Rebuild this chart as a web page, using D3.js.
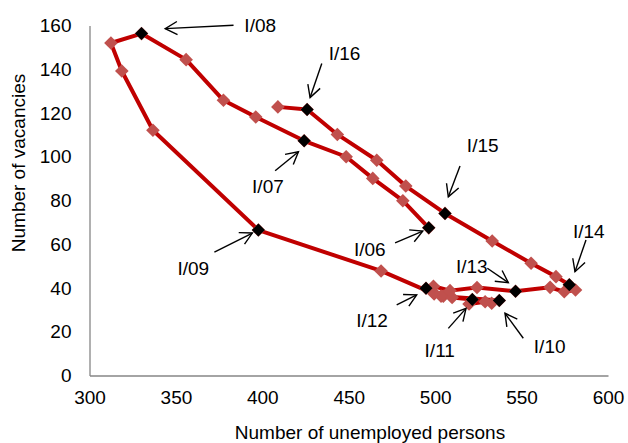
<!DOCTYPE html>
<html>
<head>
<meta charset="utf-8">
<script src="https://cdn.jsdelivr.net/npm/d3@7"></script>
<style>
  html, body { margin: 0; padding: 0; background: #fff; }
  svg text { font-family: "Liberation Sans", Arial, sans-serif; fill: #000; }
</style>
</head>
<body>
<svg id="chart" width="628" height="443"></svg>
<script>
// Quarterly observations, January 2006 – April 2016
const periods = [
  "I/06","IV/06","VII/06","X/06",
  "I/07","IV/07","VII/07","X/07",
  "I/08","IV/08","VII/08","X/08",
  "I/09","IV/09","VII/09","X/09",
  "I/10","IV/10","VII/10","X/10",
  "I/11","IV/11","VII/11","X/11",
  "I/12","IV/12","VII/12","X/12",
  "I/13","IV/13","VII/13","X/13",
  "I/14","IV/14","VII/14","X/14",
  "I/15","IV/15","VII/15","X/15",
  "I/16","IV/16"
];
// Number of unemployed persons (thousands)
const unemployed = [
  496.3, 481.3, 463.9, 448.5,
  424.2, 396.2, 377.5, 355.9,
  330.1, 312.4, 318.7, 336.7,
  397.7, 468.7, 499.4, 504.7,
  537.1, 532.7, 528.9, 519.6,
  521.5, 509.8, 503.4, 499.4,
  494.7, 499.0, 508.6, 524.2,
  546.5, 566.5, 574.7, 581.2,
  577.6, 569.9, 555.5, 533.0,
  505.7, 483.0, 466.2, 443.4,
  425.9, 409.0
];
// Number of vacancies (thousands)
const vacancies = [
  67.5, 79.9, 90.1, 100.0,
  107.3, 118.2, 125.8, 144.4,
  156.3, 152.0, 139.2, 112.1,
  66.5, 47.8, 37.3, 36.2,
  34.3, 33.0, 33.7, 32.7,
  34.7, 35.7, 36.3, 37.7,
  39.9, 40.8, 38.8, 40.2,
  38.5, 40.3, 38.3, 39.1,
  41.5, 45.2, 51.3, 61.5,
  74.1, 86.6, 98.4, 110.2,
  121.6, 122.8
];
const xTicks = [300, 350, 400, 450, 500, 550, 600];
const yTicks = [0, 20, 40, 60, 80, 100, 120, 140, 160];
const xTitle = "Number of unemployed persons";
const yTitle = "Number of vacancies";

const data = periods.map((p, i) => ({ period: p, u: unemployed[i], v: vacancies[i] }));
const january = data.filter(d => d.period.startsWith("I/"));

// Callout layout for the January points: text centre and arrow, relative to the point
const callouts = {
  "I/06": { tx: -59,  ty: 21.6,  ax: -33.7, ay: 15,   bx: -6,   by: 3.3 },
  "I/07": { tx: -36.2, ty: 46,   ax: -29,  ay: 30,    bx: -5.7, by: 11 },
  "I/08": { tx: 118.7, ty: -8.3, ax: 92,   ay: -8.3,  bx: 23.7, by: -5 },
  "I/09": { tx: -65,  ty: 38,    ax: -44,  ay: 22,    bx: -6,   by: 3 },
  "I/10": { tx: 50.4, ty: 46.2,  ax: 24,   ay: 37.8,  bx: 5.7,  by: 12.8 },
  "I/11": { tx: -32.6, ty: 50.5, ax: -24,  ay: 28.8,  bx: -6.3, by: 8.8 },
  "I/12": { tx: -54,  ty: 32.7,  ax: -29.3, ay: 16.7, bx: -9.3, by: 6.7 },
  "I/13": { tx: -43.8, ty: -24.6, ax: -28.2, ay: -23, bx: -7.2, by: -8.6 },
  "I/14": { tx: 19.5, ty: -53,   ax: 16.7, ay: -44.7, bx: 5.7,  by: -13 },
  "I/15": { tx: 37.7, ty: -68.3, ax: 15,   ay: -47.3, bx: 3.3,  by: -16.6 },
  "I/16": { tx: 37.5, ty: -55.9, ax: 14.7, ay: -45.9, bx: 3,    by: -11.9 }
};

const svg = d3.select("#chart");
const x = d3.scaleLinear().domain([300, 600]).range([89.5, 608]);
const y = d3.scaleLinear().domain([0, 160]).range([375.5, 25.5]);
const fontSize = 19;

// Axes: plain grey lines, no tick marks
const xAxis = svg.append("g")
  .attr("transform", `translate(0,${y(0)})`)
  .call(d3.axisBottom(x).tickValues(xTicks).tickSize(0).tickPadding(15).tickFormat(d3.format("d")));
const yAxis = svg.append("g")
  .attr("transform", `translate(${x(300)},0)`)
  .call(d3.axisLeft(y).tickValues(yTicks).tickSize(0).tickPadding(18).tickFormat(d3.format("d")));
[xAxis, yAxis].forEach(g => {
  g.select(".domain").attr("stroke", "#868686").attr("stroke-width", 1.3);
  g.selectAll("text").attr("font-size", fontSize)
    .attr("font-family", "Liberation Sans, Arial, sans-serif").attr("fill", "#000");
});

// Axis titles
svg.append("text")
  .attr("x", 370).attr("y", 432)
  .attr("text-anchor", "middle").attr("dominant-baseline", "central")
  .attr("font-size", fontSize)
  .text(xTitle);
svg.append("text")
  .attr("transform", `translate(18,163) rotate(-90)`)
  .attr("text-anchor", "middle").attr("dominant-baseline", "central")
  .attr("font-size", fontSize)
  .text(yTitle);

// Connecting line
const line = d3.line().x(d => x(d.u)).y(d => y(d.v));
svg.append("path")
  .datum(data)
  .attr("d", line)
  .attr("fill", "none")
  .attr("stroke", "#C00000")
  .attr("stroke-width", 4)
  .attr("stroke-linejoin", "round");

// Diamond markers
const diamond = d3.symbol().type(d3.symbolDiamond2 || d3.symbolSquare2).size(1);
function diamondPath(r) {
  return `M0,${-r}L${r},0L0,${r}L${-r},0Z`;
}
svg.append("g").selectAll("path")
  .data(data)
  .join("path")
  .attr("d", diamondPath(6.8))
  .attr("transform", d => `translate(${x(d.u)},${y(d.v)})`)
  .attr("fill", "#C0504D");

svg.append("g").selectAll("path")
  .data(january)
  .join("path")
  .attr("d", diamondPath(6.5))
  .attr("transform", d => `translate(${x(d.u)},${y(d.v)})`)
  .attr("fill", "#000");

// Callout arrows and labels for January of each year
const defs = svg.append("defs");
defs.append("marker")
  .attr("id", "open-arrow")
  .attr("markerUnits", "userSpaceOnUse")
  .attr("viewBox", "-14 -8 16 16")
  .attr("markerWidth", 16).attr("markerHeight", 16)
  .attr("refX", 0).attr("refY", 0)
  .attr("orient", "auto")
  .append("path")
  .attr("d", "M-12,-6.5L0,0L-12,6.5")
  .attr("fill", "none").attr("stroke", "#000").attr("stroke-width", 1.4);

const notes = svg.append("g");
january.forEach(d => {
  const c = callouts[d.period];
  const px = x(d.u), py = y(d.v);
  notes.append("line")
    .attr("x1", px + c.ax).attr("y1", py + c.ay)
    .attr("x2", px + c.bx).attr("y2", py + c.by)
    .attr("stroke", "#000").attr("stroke-width", 1.4)
    .attr("marker-end", "url(#open-arrow)");
  notes.append("text")
    .attr("x", px + c.tx).attr("y", py + c.ty)
    .attr("text-anchor", "middle").attr("dominant-baseline", "central")
    .attr("font-size", fontSize)
    .text(d.period);
});
</script>
</body>
</html>
